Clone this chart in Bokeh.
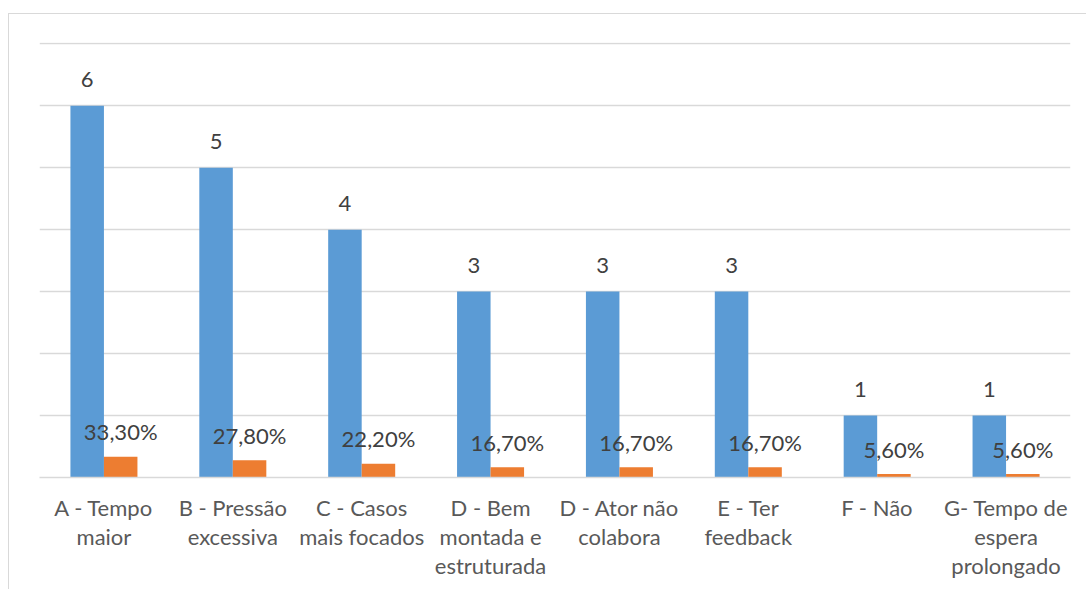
from bokeh.plotting import figure
from bokeh.models import ColumnDataSource, FactorRange, Range1d, FixedTicker
from bokeh.transform import dodge
from bokeh.core.properties import value
from bokeh.embed import file_html
from bokeh.resources import INLINE

# Survey answers: number of mentions and share of respondents
categories = [
    "A - Tempo\nmaior",
    "B - Pressão\nexcessiva",
    "C - Casos\nmais focados",
    "D - Bem\nmontada e\nestruturada",
    "D - Ator não\ncolabora",
    "E - Ter\nfeedback",
    "F - Não",
    "G- Tempo de\nespera\nprolongado",
]
counts = [6, 5, 4, 3, 3, 3, 1, 1]
shares = [0.333, 0.278, 0.222, 0.167, 0.167, 0.167, 0.056, 0.056]
y_ticks = [0, 1, 2, 3, 4, 5, 6, 7]

BLUE = "#5B9BD5"
ORANGE = "#ED7D31"
GRID = "#D9D9D9"
FONT = "Lato"

source = ColumnDataSource(dict(
    cat=categories,
    count=counts,
    share=shares,
    count_lbl=[str(c) for c in counts],
    share_lbl=[f"{s * 100:.2f}%".replace(".", ",") for s in shares],
))

p = figure(
    x_range=FactorRange(factors=categories),
    y_range=Range1d(y_ticks[0], y_ticks[-1] + 0.02),
    frame_width=1031, frame_height=435,
    margin=(13, 0, 0, 8),
    output_backend="svg", toolbar_location=None,
    y_axis_location=None,
    min_border_left=30, min_border_top=28, min_border_right=17, min_border_bottom=112,
)
p.styles = {"border-left": f"1px solid {GRID}", "border-top": f"1px solid {GRID}"}
p.outline_line_color = None
p.background_fill_color = "white"
p.border_fill_color = "white"

bar_w = 0.26
off = 0.13
p.vbar(x=dodge("cat", -off, range=p.x_range), top="count", width=bar_w,
       source=source, fill_color=BLUE, line_color=None)
p.vbar(x=dodge("cat", off, range=p.x_range), top="share", width=bar_w,
       source=source, fill_color=ORANGE, line_color=None)

p.text(x=dodge("cat", -off, range=p.x_range), y="count", text="count_lbl",
       source=source, text_align="center", text_baseline="alphabetic", y_offset=-26,
       text_font=value(FONT), text_font_size="22px", text_color="#404040")
p.text(x=dodge("cat", off, range=p.x_range), y="share", text="share_lbl",
       source=source, text_align="center", text_baseline="alphabetic", y_offset=-25,
       text_font=value(FONT), text_font_size="22px", text_color="#404040")

p.xgrid.visible = False
p.ygrid.ticker = FixedTicker(ticks=y_ticks)
p.ygrid.grid_line_color = GRID
p.ygrid.grid_line_width = 1.5

xa = p.xaxis[0]
xa.axis_line_color = GRID
xa.axis_line_width = 1.5
xa.major_tick_line_color = None
xa.minor_tick_line_color = None
xa.major_label_text_font = FONT
xa.major_label_text_font_size = "22px"
xa.major_label_text_color = "#595959"
xa.major_label_text_line_height = 1.08
xa.major_label_standoff = 10

open("out.html", "w").write(file_html(p, INLINE))
